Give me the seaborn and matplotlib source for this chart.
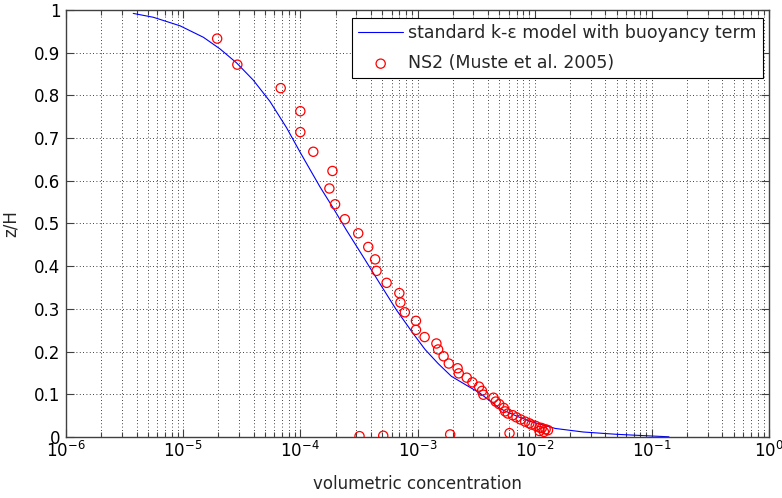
import numpy as np
import pandas as pd
import matplotlib
matplotlib.use("Agg")
import matplotlib.pyplot as plt
from matplotlib.ticker import LogLocator, NullFormatter, FuncFormatter, MultipleLocator
import seaborn as sns

# ---- data ----
model_conc = [3.75e-6, 5.56e-6, 9.4e-6, 1.49e-5, 2.06e-5, 2.86e-5, 3.96e-5, 5.5e-5,
              7.64e-5, 1.0e-4, 1.47e-4, 1.91e-4, 2.48e-4, 3.44e-4, 4.78e-4, 6.63e-4,
              9.2e-4, 1.16e-3, 1.5e-3, 1.95e-3, 2.7e-3, 3.4e-3, 5.05e-3, 7.0e-3,
              9.3e-3, 1.5e-2, 2.6e-2, 5.0e-2, 1.0e-1, 1.4e-1]
model_z = [0.992, 0.983, 0.963, 0.936, 0.909, 0.876, 0.836, 0.786,
           0.724, 0.666, 0.586, 0.536, 0.484, 0.422, 0.359, 0.297,
           0.242, 0.205, 0.172, 0.142, 0.119, 0.103, 0.0665, 0.049,
           0.036, 0.020, 0.0117, 0.0063, 0.0023, 0.0005]

obs_conc = [1.95e-5, 2.9e-5, 6.8e-5, 1.0e-4, 1.0e-4, 1.29e-4, 1.88e-4, 1.77e-4,
            1.98e-4, 2.4e-4, 3.12e-4, 3.8e-4, 4.35e-4, 4.47e-4, 5.45e-4, 7.0e-4,
            7.15e-4, 7.8e-4, 9.7e-4, 9.7e-4, 1.15e-3, 1.45e-3, 1.5e-3, 1.67e-3,
            1.85e-3, 2.2e-3, 2.25e-3, 2.63e-3, 2.94e-3, 3.35e-3, 3.55e-3, 3.65e-3,
            4.45e-3, 4.65e-3, 4.98e-3, 5.45e-3, 5.6e-3, 5.9e-3, 6.5e-3, 7.0e-3,
            7.6e-3, 8.3e-3, 9.0e-3, 9.4e-3, 1.02e-2, 1.1e-2, 1.15e-2, 1.24e-2,
            1.3e-2, 1.1e-2, 1.2e-2, 3.2e-4, 5.1e-4, 1.9e-3, 6.1e-3]
obs_z = [0.933, 0.872, 0.817, 0.763, 0.714, 0.668, 0.623, 0.582,
         0.545, 0.510, 0.477, 0.445, 0.416, 0.389, 0.361, 0.337,
         0.315, 0.292, 0.272, 0.251, 0.234, 0.219, 0.205, 0.189,
         0.172, 0.161, 0.149, 0.139, 0.128, 0.118, 0.108, 0.099,
         0.092, 0.083, 0.077, 0.068, 0.060, 0.055, 0.051, 0.046,
         0.041, 0.036, 0.032, 0.029, 0.026, 0.022, 0.021, 0.018,
         0.016, 0.014, 0.012, 0.002, 0.003, 0.006, 0.009]

model_label = "standard k-\u03b5 model with buoyancy term"
obs_label = "NS2 (Muste et al. 2005)"
x_label = "volumetric concentration"
y_label = "z/H"

sns.set_style("ticks")
plt.rcParams['font.family'] = ['DejaVu Sans']
plt.rcParams['mathtext.fontset'] = 'custom'
plt.rcParams['mathtext.rm'] = 'DejaVu Sans'
plt.rcParams['mathtext.it'] = 'DejaVu Sans:italic'
plt.rcParams['mathtext.bf'] = 'DejaVu Sans:bold'
plt.rcParams['mathtext.sf'] = 'DejaVu Sans'
plt.rcParams['mathtext.default'] = 'rm'

model_df = pd.DataFrame({"c": model_conc, "z": model_z})
obs_df = pd.DataFrame({"c": obs_conc, "z": obs_z})

fig = plt.figure(figsize=(7.82, 4.98), dpi=100)
ax = fig.add_axes([66/782, 1-437/498, (769-66)/782, (437-10)/498])

sns.lineplot(data=model_df, x="c", y="z", ax=ax, color="#0000ff", linewidth=0.8,
             estimator=None, sort=True, label=model_label)
sns.scatterplot(data=obs_df, x="c", y="z", ax=ax, marker="o", s=44,
                facecolors="none", edgecolor="#ff0000", linewidth=0.9,
                label=obs_label, zorder=3)

ax.set_xscale("log")
ax.set_xlim(1e-6, 1e0)
ax.set_ylim(0, 1)
ax.xaxis.set_major_locator(LogLocator(base=10, numticks=20))
ax.xaxis.set_minor_locator(LogLocator(base=10, subs=np.arange(2, 10), numticks=100))
ax.xaxis.set_minor_formatter(NullFormatter())
ax.xaxis.set_major_formatter(FuncFormatter(lambda v, p: r"$10^{%d}$" % int(round(np.log10(v)))))
ax.yaxis.set_major_locator(MultipleLocator(0.1))
ax.yaxis.set_major_formatter(FuncFormatter(lambda v, p: ("%g" % round(v, 1))))

ax.grid(True, which="major", axis="both", color="black", linestyle=(0, (1, 3)), linewidth=0.6)
ax.grid(True, which="minor", axis="x", color="black", linestyle=(0, (1, 3)), linewidth=0.6)

for s in ax.spines.values():
    s.set_color("#404040")
    s.set_linewidth(1.0)
ax.tick_params(which="both", direction="in", top=True, right=True, color="#404040",
               labelsize=12, labelcolor="black")
ax.tick_params(which="major", length=6, width=0.8, pad=4)
ax.tick_params(which="minor", length=3.5, width=0.8)
ax.tick_params(axis="x", which="major", pad=3)

ax.set_xlabel(x_label, fontsize=12, labelpad=10)
ax.set_ylabel(y_label, fontsize=12, labelpad=10)

leg = ax.legend(loc="upper right", bbox_to_anchor=(0.9915, 0.9813), borderaxespad=0,
                fontsize=12.5, frameon=True, fancybox=False, edgecolor="black",
                framealpha=1, handlelength=2.6, handletextpad=0.3,
                labelspacing=0.7, borderpad=0.35)
leg.get_frame().set_linewidth(0.8)

fig.savefig("out.png", dpi=100)
